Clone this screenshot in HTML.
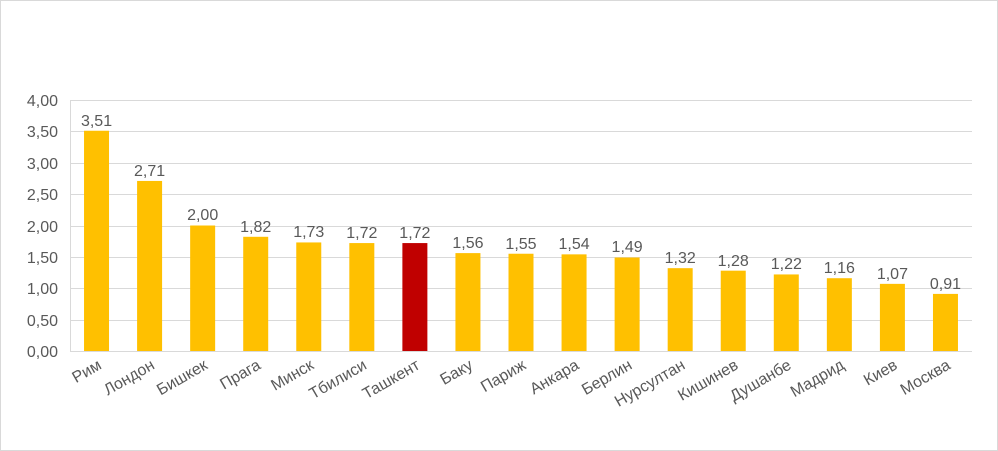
<!DOCTYPE html>
<html><head><meta charset="utf-8"><style>
html,body{margin:0;padding:0;background:#fff}
svg{display:block;font-family:"Liberation Sans","DejaVu Sans",sans-serif}
</style></head><body>
<svg width="998" height="451" xmlns="http://www.w3.org/2000/svg">
<rect x="0.5" y="0.5" width="997" height="450" fill="#fff" stroke="#d9d9d9"/>
<g stroke="#d9d9d9" stroke-width="1">
<line x1="70" x2="972" y1="100.5" y2="100.5"/>
<line x1="70" x2="972" y1="131.5" y2="131.5"/>
<line x1="70" x2="972" y1="163.5" y2="163.5"/>
<line x1="70" x2="972" y1="194.5" y2="194.5"/>
<line x1="70" x2="972" y1="226.5" y2="226.5"/>
<line x1="70" x2="972" y1="257.5" y2="257.5"/>
<line x1="70" x2="972" y1="288.5" y2="288.5"/>
<line x1="70" x2="972" y1="320.5" y2="320.5"/>
<line x1="70" x2="972" y1="351.5" y2="351.5"/>
<line x1="70.5" x2="70.5" y1="100" y2="351"/>
</g>
<g fill="#595959" font-size="16" text-anchor="end">
<text x="58" y="106">4,00</text><text x="58" y="137">3,50</text><text x="58" y="169">3,00</text>
<text x="58" y="200">2,50</text><text x="58" y="232">2,00</text><text x="58" y="263">1,50</text>
<text x="58" y="294">1,00</text><text x="58" y="326">0,50</text><text x="58" y="357">0,00</text>
</g>
<g fill="#ffc000">
<rect x="84.03" y="130.75" width="25" height="220.25"/>
<rect x="137.09" y="180.95" width="25" height="170.05"/>
<rect x="190.15" y="225.5" width="25" height="125.5"/>
<rect x="243.21" y="236.8" width="25" height="114.2"/>
<rect x="296.26" y="242.44" width="25" height="108.56"/>
<rect x="349.32" y="243.07" width="25" height="107.93"/>
<rect x="402.38" y="243.07" width="25" height="107.93" fill="#c00000"/>
<rect x="455.44" y="253.11" width="25" height="97.89"/>
<rect x="508.5" y="253.74" width="25" height="97.26"/>
<rect x="561.56" y="254.36" width="25" height="96.64"/>
<rect x="614.62" y="257.5" width="25" height="93.5"/>
<rect x="667.68" y="268.17" width="25" height="82.83"/>
<rect x="720.74" y="270.68" width="25" height="80.32"/>
<rect x="773.79" y="274.44" width="25" height="76.56"/>
<rect x="826.85" y="278.21" width="25" height="72.79"/>
<rect x="879.91" y="283.86" width="25" height="67.14"/>
<rect x="932.97" y="293.9" width="25" height="57.1"/>
</g>
<g fill="#595959" font-size="16" text-anchor="middle">
<text x="96.53" y="126">3,51</text>
<text x="149.59" y="176">2,71</text>
<text x="202.65" y="220">2,00</text>
<text x="255.71" y="232">1,82</text>
<text x="308.76" y="237">1,73</text>
<text x="361.82" y="238">1,72</text>
<text x="414.88" y="238">1,72</text>
<text x="467.94" y="248">1,56</text>
<text x="521" y="249">1,55</text>
<text x="574.06" y="249">1,54</text>
<text x="627.12" y="252">1,49</text>
<text x="680.18" y="263">1,32</text>
<text x="733.24" y="266">1,28</text>
<text x="786.29" y="269">1,22</text>
<text x="839.35" y="273">1,16</text>
<text x="892.41" y="279">1,07</text>
<text x="945.47" y="289">0,91</text>
</g>
<g fill="#595959" font-size="16" text-anchor="end">
<text transform="translate(102.5,368) rotate(-30)">Рим</text>
<text transform="translate(155.6,368) rotate(-30)">Лондон</text>
<text transform="translate(208.6,368) rotate(-30)">Бишкек</text>
<text transform="translate(261.7,368) rotate(-30)">Прага</text>
<text transform="translate(314.8,368) rotate(-30)">Минск</text>
<text transform="translate(367.8,368) rotate(-30)">Тбилиси</text>
<text transform="translate(420.9,368) rotate(-30)">Ташкент</text>
<text transform="translate(473.9,368) rotate(-30)">Баку</text>
<text transform="translate(527,368) rotate(-30)">Париж</text>
<text transform="translate(580.1,368) rotate(-30)">Анкара</text>
<text transform="translate(633.1,368) rotate(-30)">Берлин</text>
<text transform="translate(686.2,368) rotate(-30)">Нурсултан</text>
<text transform="translate(739.2,368) rotate(-30)">Кишинев</text>
<text transform="translate(792.3,368) rotate(-30)">Душанбе</text>
<text transform="translate(845.4,368) rotate(-30)">Мадрид</text>
<text transform="translate(898.4,368) rotate(-30)">Киев</text>
<text transform="translate(951.5,368) rotate(-30)">Москва</text>
</g>
</svg>
</body></html>
